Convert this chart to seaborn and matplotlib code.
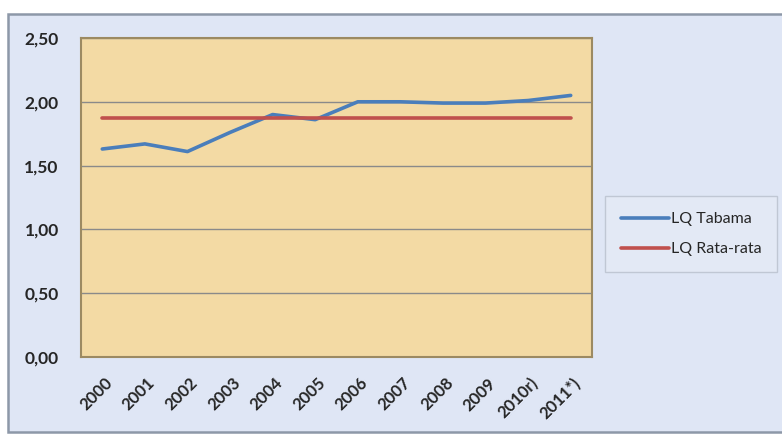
import matplotlib
matplotlib.use('Agg')
import matplotlib.pyplot as plt
import matplotlib.transforms as mtransforms
import seaborn as sns
import pandas as pd
import numpy as np
from matplotlib.patches import Rectangle
from matplotlib.ticker import FixedLocator, FuncFormatter

# data
years = ['2000', '2001', '2002', '2003', '2004', '2005', '2006',
         '2007', '2008', '2009', '2010r)', "2011*)"]
lq_tabama = [1.63, 1.67, 1.61, 1.76, 1.90, 1.86, 2.00, 2.00, 1.99, 1.99, 2.01, 2.05]
lq_rata = [1.87] * len(years)
series_names = ['LQ Tabama', 'LQ Rata-rata']
yticks = [0.0, 0.5, 1.0, 1.5, 2.0, 2.5]

df = pd.concat([
    pd.DataFrame({'pos': range(len(years)), 'LQ': lq_tabama, 'seri': series_names[0]}),
    pd.DataFrame({'pos': range(len(years)), 'LQ': lq_rata, 'seri': series_names[1]}),
])

sns.set_style('white')
plt.rcParams['font.family'] = ['Lato', 'DejaVu Sans']

fig = plt.figure(figsize=(7.82, 4.38), dpi=100)
fig.patch.set_facecolor('white')
# light blue outer frame, kept behind the axes
fig.patches.append(Rectangle((8 / 782, 6 / 438), 776 / 782, 418 / 438,
                             transform=fig.transFigure, facecolor='#dfe6f5',
                             edgecolor='#8d98a8', linewidth=1.8, zorder=-5))

ax = fig.add_axes([81 / 782, 1 - 357 / 438, (592 - 81) / 782, (357 - 38) / 438])
ax.set_zorder(2)
ax.set_facecolor('#f3daa4')

sns.lineplot(data=df, x='pos', y='LQ', hue='seri', ax=ax,
             palette={'LQ Tabama': '#4a7ebb', 'LQ Rata-rata': '#c0504d'},
             linewidth=2.6, legend=True)

ax.set_xlim(-0.5, len(years) - 0.5)
ax.set_ylim(0, 2.5)
ax.yaxis.set_major_locator(FixedLocator(yticks))
ax.yaxis.set_major_formatter(FuncFormatter(lambda v, p: f'{v:.2f}'.replace('.', ',')))
ax.grid(axis='y', color='#8a8a8a', linewidth=1)
ax.set_axisbelow(True)

ax.set_xticks(range(len(years)))
ax.set_xticklabels(years, rotation=45, ha='right', rotation_mode='anchor',
                   fontweight='bold', fontsize=12)
ax.set_xticks(np.arange(-0.5, len(years)), minor=True)
ax.tick_params(axis='x', which='major', length=0, pad=13)
ax.tick_params(axis='x', which='minor', length=5, color='#7f7f7f', direction='out')
ax.tick_params(axis='y', length=0, pad=16, labelsize=12.5)
for lab in ax.get_yticklabels():
    lab.set_fontweight('bold')
# small rightward nudge of the rotated year labels
shift = mtransforms.ScaledTranslation(2 / 100, 0, fig.dpi_scale_trans)
for lab in ax.get_xticklabels():
    lab.set_transform(lab.get_transform() + shift)

ax.set_xlabel('')
ax.set_ylabel('')
for side, sp in ax.spines.items():
    sp.set_color('#9c8a62')
    sp.set_linewidth(1.5)

leg = ax.legend(loc='center left', bbox_to_anchor=(1.02, 0.385), frameon=True,
                fontsize=11.5, handlelength=3.0, handletextpad=0.1,
                borderpad=0.7, labelspacing=1.0)
leg.get_frame().set_facecolor('#e5eaf6')
leg.get_frame().set_edgecolor('#b8c0cc')
leg.get_frame().set_boxstyle('square')

fig.savefig('out.png', dpi=100)
